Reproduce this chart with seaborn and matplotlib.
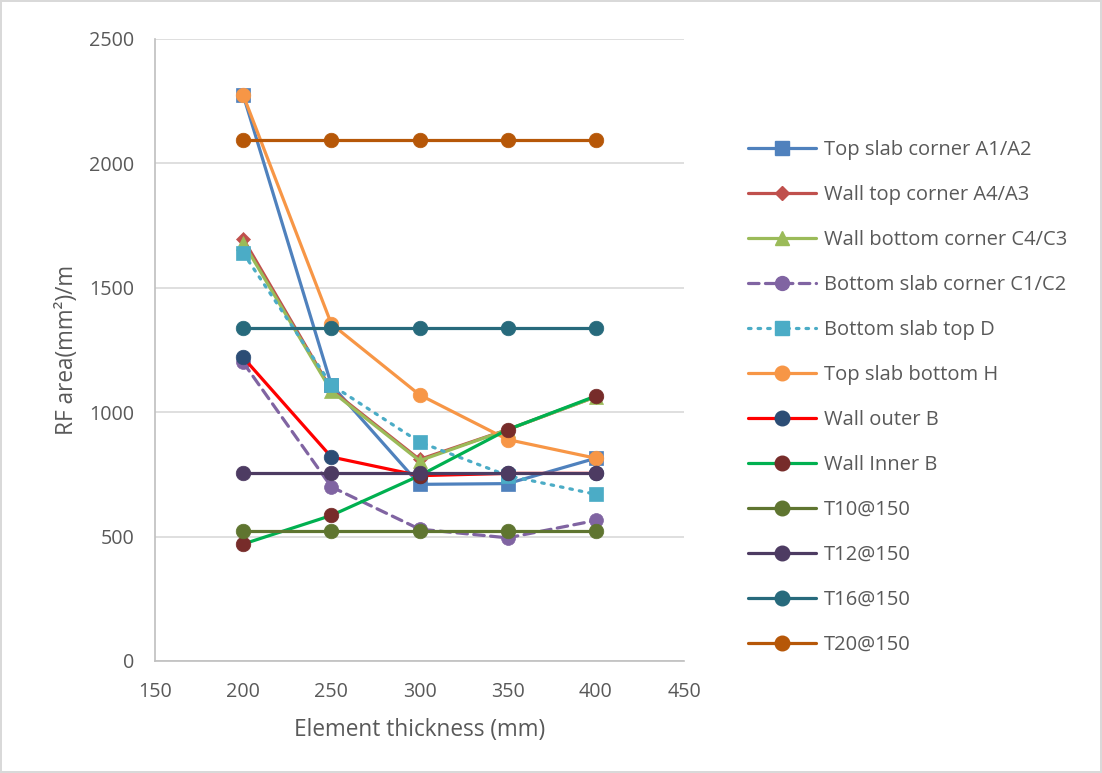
import matplotlib
matplotlib.use("Agg")
import matplotlib.pyplot as plt
import seaborn as sns
import pandas as pd
from matplotlib.lines import Line2D

thickness = [200, 250, 300, 350, 400]
series_names = ["Top slab corner A1/A2", "Wall top corner A4/A3", "Wall bottom corner C4/C3",
                "Bottom slab corner C1/C2", "Bottom slab top D", "Top slab bottom H",
                "Wall outer B", "Wall Inner B", "T10@150", "T12@150", "T16@150", "T20@150"]
top_slab_corner = [2275, 1110, 710, 713, 815]
wall_top_corner = [1697, 1090, 810, 930, 1062]
wall_bottom_corner = [1682, 1085, 805, 930, 1062]
bottom_slab_corner = [1200, 700, 530, 495, 565]
bottom_slab_top = [1640, 1110, 880, 745, 670]
top_slab_bottom = [2275, 1355, 1070, 890, 815]
wall_outer = [1220, 820, 745, 754, 754]
wall_inner = [470, 585, 745, 930, 1065]
t10 = [523, 523, 523, 523, 523]
t12 = [754, 754, 754, 754, 754]
t16 = [1340, 1340, 1340, 1340, 1340]
t20 = [2094, 2094, 2094, 2094, 2094]
values = [top_slab_corner, wall_top_corner, wall_bottom_corner, bottom_slab_corner,
          bottom_slab_top, top_slab_bottom, wall_outer, wall_inner, t10, t12, t16, t20]

styles = [
    dict(color="#4f81bd", mfc="#4f81bd", marker="s", ls="-", ms=10),
    dict(color="#c0504d", mfc="#c0504d", marker="D", ls="-", ms=7.5),
    dict(color="#9bbb59", mfc="#9bbb59", marker="^", ls="-", ms=10),
    dict(color="#8064a2", mfc="#8064a2", marker="o", ls=(0, (3.3, 2.0)), ms=10),
    dict(color="#4bacc6", mfc="#4bacc6", marker="s", ls=(0, (0.8, 2.2)), ms=10.5),
    dict(color="#f79646", mfc="#f79646", marker="o", ls="-", ms=10.5),
    dict(color="#ff0000", mfc="#2c4d75", marker="o", ls="-", ms=10.5),
    dict(color="#00b050", mfc="#772c2a", marker="o", ls="-", ms=10.5),
    dict(color="#5f7530", mfc="#5f7530", marker="o", ls="-", ms=10.5),
    dict(color="#4d3b62", mfc="#4d3b62", marker="o", ls="-", ms=10.5),
    dict(color="#276a7c", mfc="#276a7c", marker="o", ls="-", ms=10.5),
    dict(color="#b65708", mfc="#b65708", marker="o", ls="-", ms=10.5),
]

rows = []
for name, vals in zip(series_names, values):
    for x, v in zip(thickness, vals):
        rows.append(dict(series=name, thickness=x, area=v))
df = pd.DataFrame(rows)

sns.set_theme(style="white")
plt.rcParams["font.family"] = ["Open Sans", "DejaVu Sans"]
txt = "#595959"
LW = 2.3

fig = plt.figure(figsize=(11.02, 7.73), dpi=100)
fig.patch.set_edgecolor("#d9d9d9")
fig.patch.set_linewidth(1.5)
ax = fig.add_axes([155/1102, 1 - 661/773, (684-155)/1102, (661-39)/773])

handles = []
for name, st in zip(series_names, styles):
    sub = df[df["series"] == name]
    dotted = st["ls"] != "-"
    sns.lineplot(data=sub, x="thickness", y="area", ax=ax, color=st["color"],
                 linestyle=st["ls"], linewidth=LW, marker=st["marker"],
                 markersize=st["ms"], markerfacecolor=st["mfc"],
                 markeredgecolor=st["mfc"], markeredgewidth=0.5, legend=False,
                 estimator=None, sort=False,
                 dash_capstyle="round" if dotted else "butt")
    handles.append(Line2D([0], [0], color=st["color"], linestyle=st["ls"], linewidth=LW,
                          marker=st["marker"], markersize=st["ms"],
                          markerfacecolor=st["mfc"], markeredgecolor=st["mfc"],
                          dash_capstyle="round" if dotted else "butt",
                          label=name))

ax.set_xlim(150, 450)
ax.set_ylim(0, 2500)
ax.set_xticks([150, 200, 250, 300, 350, 400, 450])
ax.set_yticks([0, 500, 1000, 1500, 2000, 2500])
ax.yaxis.grid(True, color="#d9d9d9", linewidth=1.2)
ax.xaxis.grid(False)
ax.set_axisbelow(True)
for s in ["top", "right"]:
    ax.spines[s].set_visible(False)
for s in ["left", "bottom"]:
    ax.spines[s].set_color("#bfbfbf")
    ax.spines[s].set_linewidth(1.2)
ax.tick_params(axis="x", length=0, labelsize=14.2, colors=txt, pad=15)
ax.tick_params(axis="y", length=0, labelsize=14.2, colors=txt, pad=15)
ax.set_xlabel("Element thickness (mm)", fontsize=16.3, color=txt, labelpad=12)
ax.set_ylabel("RF area(mm²)/m", fontsize=16.3, color=txt, labelpad=7)

leg = fig.legend(handles=handles, loc="upper left", bbox_to_anchor=(730/1102, 1 - 122/773),
                 frameon=False, fontsize=14.5, handlelength=3.38, labelspacing=1.24,
                 handletextpad=0.4, labelcolor=txt)

fig.savefig("out.png", dpi=100)
